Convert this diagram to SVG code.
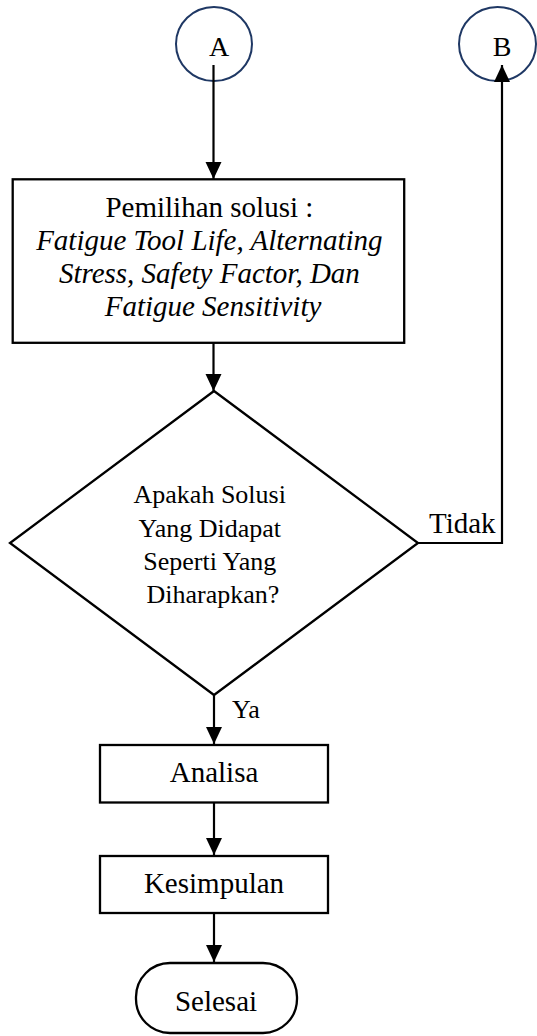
<svg xmlns="http://www.w3.org/2000/svg" width="537" height="1036" viewBox="0 0 537 1036">
<defs>
<style>
.t{font-family:"Liberation Serif","Times New Roman",serif;fill:#000}
.c{fill:#fff;stroke:#1f3864;stroke-width:2}
.s{fill:#fff;stroke:#000;stroke-width:2.3}
.l{fill:none;stroke:#000;stroke-width:2.2}
</style>
<marker id="ah" markerUnits="userSpaceOnUse" markerWidth="18" markerHeight="18" viewBox="0 0 18 18" refX="17" refY="9" orient="auto">
<path d="M0,1 L17,9 L0,17 Z" fill="#000"/>
</marker>
</defs>
<rect width="537" height="1036" fill="#fff"/>
<g id="nodeA">
<ellipse class="c" cx="214" cy="44" rx="38" ry="37"/>
<text class="t" x="219" y="56" font-size="28" text-anchor="middle">A</text>
</g>
<g id="nodeB">
<ellipse class="c" cx="497.5" cy="44" rx="38.5" ry="37"/>
<text class="t" x="502" y="56" font-size="28" text-anchor="middle">B</text>
</g>
<g id="pemilihan">
<rect class="s" x="12.7" y="179.3" width="391.5" height="163.5"/>
<text class="t" x="213" font-size="29" text-anchor="middle">
<tspan x="213" y="217">Pemilihan solusi :</tspan>
<tspan x="213" y="250" font-style="italic">Fatigue Tool Life, Alternating</tspan>
<tspan x="213" y="283" font-style="italic">Stress, Safety Factor, Dan</tspan>
<tspan x="213" y="316" font-style="italic">Fatigue Sensitivity</tspan>
</text>
</g>
<g id="keputusan">
<polygon class="s" points="214,391 418,543 214,695 10,543"/>
<text class="t" font-size="26" text-anchor="middle">
<tspan x="213" y="503">Apakah Solusi</tspan>
<tspan x="213" y="537">Yang Didapat</tspan>
<tspan x="213" y="570">Seperti Yang</tspan>
<tspan x="213" y="603">Diharapkan?</tspan>
</text>
</g>
<g id="analisa">
<rect class="s" x="100" y="745" width="228" height="57.5"/>
<text class="t" x="214" y="782" font-size="29" text-anchor="middle">Analisa</text>
</g>
<g id="kesimpulan">
<rect class="s" x="100" y="856" width="228" height="57"/>
<text class="t" x="214" y="893" font-size="29" text-anchor="middle">Kesimpulan</text>
</g>
<g id="selesai">
<rect class="s" x="136" y="963" width="161" height="70" rx="34" ry="34"/>
<text class="t" x="216" y="1011" font-size="29" text-anchor="middle">Selesai</text>
</g>
<g id="connectors">
<line class="l" x1="213.5" y1="65" x2="213.5" y2="179" marker-end="url(#ah)"/>
<line class="l" x1="213.5" y1="343" x2="213.5" y2="391" marker-end="url(#ah)"/>
<line class="l" x1="214" y1="695" x2="214" y2="744" marker-end="url(#ah)"/>
<line class="l" x1="214" y1="803" x2="214" y2="855" marker-end="url(#ah)"/>
<line class="l" x1="214" y1="913" x2="214" y2="962" marker-end="url(#ah)"/>
<polyline class="l" points="418,543 502,543 502,65" marker-end="url(#ah)" stroke-linejoin="miter"/>
<text class="t" x="429" y="533" font-size="29">Tidak</text>
<text class="t" x="232" y="718" font-size="26">Ya</text>
</g>
</svg>
